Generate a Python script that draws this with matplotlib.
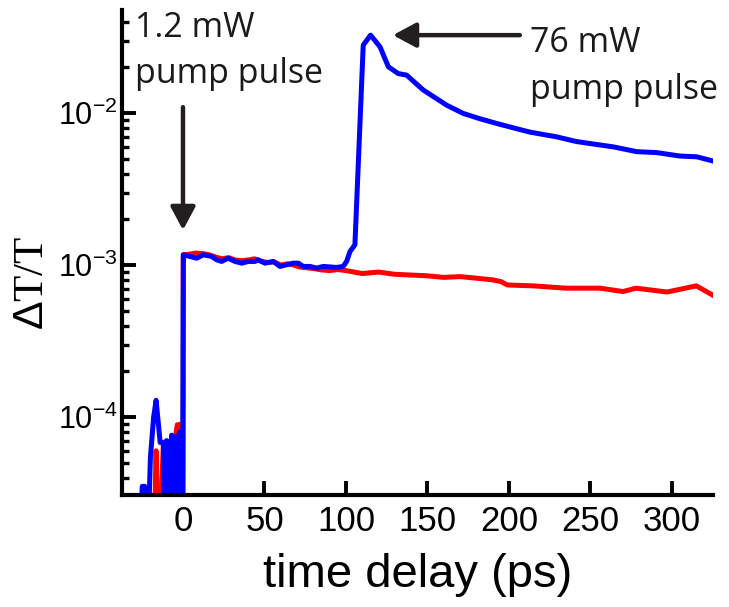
import numpy as np
import matplotlib
matplotlib.use("Agg")
import matplotlib.pyplot as plt
from matplotlib.ticker import LogLocator, FixedLocator, NullFormatter

plt.rcParams['mathtext.fontset'] = 'custom'
plt.rcParams['mathtext.rm'] = 'Liberation Sans'
plt.rcParams['mathtext.it'] = 'Liberation Sans:italic'
plt.rcParams['font.family'] = ['Liberation Sans', 'DejaVu Sans']

# 1.2 mW pump only (red)
t_red = [-36, -18, -16.5, -15, -12, -10.5, -9.5, -7, -5, -3.5, -2.5, -1, 0,
         0.2, 4, 8, 12, 16, 20, 24, 28, 32, 36, 40, 44, 48, 52, 56, 60, 64,
         68, 72, 76, 80, 85, 90, 95, 100, 105, 110, 120, 130, 140, 150, 160,
         170, 180, 190, 195, 199, 215, 235, 256, 270, 278, 297, 315, 325]
dtt_red = [1e-5, 1e-5, 6e-5, 1e-5, 6.8e-5, 6.9e-5, 1e-5, 6e-5, 7e-5, 8.9e-5,
           8.9e-5, 9e-5, 1e-5,
           1.17e-3, 1.18e-3, 1.2e-3, 1.19e-3, 1.17e-3, 1.13e-3, 1.1e-3,
           1.12e-3, 1.08e-3, 1.07e-3, 1.08e-3, 1.1e-3, 1.06e-3, 1.04e-3,
           1.05e-3, 1.0e-3, 1.02e-3, 1.0e-3, 0.97e-3, 0.96e-3, 0.95e-3,
           0.93e-3, 0.92e-3, 0.935e-3, 0.92e-3, 0.9e-3, 0.88e-3, 0.9e-3,
           0.87e-3, 0.86e-3, 0.85e-3, 0.83e-3, 0.84e-3, 0.82e-3, 0.8e-3,
           0.78e-3, 7.4e-4, 7.3e-4, 7.05e-4, 7.05e-4, 6.7e-4, 7.05e-4,
           6.65e-4, 7.3e-4, 6.35e-4]

# 1.2 mW pump followed by 76 mW pump at ~100 ps (blue)
t_blue = [-36, -27, -25, -23.5, -22, -20, -18, -16.5, -14, -12, -11, -10,
          -9, -8, -7, -6, -5, -4, -3, -2, -1, -0.3,
          0.2, 4.3, 8.4, 12.5, 17.6, 20.7, 23.7, 27.8, 31.9, 36, 40.1, 44.2,
          46.2, 50.3, 55.4, 59.5, 63.6, 67.7, 70.8, 73.8, 77.9, 82, 86.1,
          94.3, 98.3, 100.4, 102.5, 105.5, 110.6, 115.1, 120.9, 126, 132.1,
          137.2, 147.4, 161.8, 172, 182, 192.5, 204.7, 212.9, 229.3, 241.5,
          249.7, 264, 278.3, 290.6, 304.9, 315.2, 325.3]
dtt_blue = [1e-5, 1e-5, 3.5e-5, 3.5e-5, 1e-5, 5.4e-5, 1.0e-4, 1.29e-4,
            6.8e-5, 6.8e-5, 1e-5, 7e-5, 6.9e-5, 1e-5, 7.6e-5, 7.2e-5, 1e-5,
            7.5e-5, 1e-5, 8e-5, 1e-5, 1e-5,
            1.169e-3, 1.14e-3, 1.11e-3, 1.169e-3, 1.14e-3, 1.083e-3,
            1.057e-3, 1.11e-3, 1.057e-3, 1.03e-3, 1.057e-3, 1.057e-3,
            1.083e-3, 1.03e-3, 1.057e-3, 0.98e-3, 1.005e-3, 1.03e-3,
            1.03e-3, 0.98e-3, 0.98e-3, 0.956e-3, 0.98e-3, 0.965e-3, 0.98e-3,
            1.057e-3, 1.23e-3, 1.36e-3, 0.0280, 0.0326, 0.0273, 0.0202,
            0.0182, 0.0178, 0.0142, 0.01128, 0.00995, 0.0092, 0.00855,
            0.0079, 0.0075, 0.00698, 0.0065, 0.00631, 0.0060, 0.00558,
            0.0055, 0.00522, 0.00516, 0.00484]

xticks = [0, 50, 100, 150, 200, 250, 300]

fig = plt.figure(figsize=(7.29, 6.07), dpi=100)
ax = fig.add_axes([0.1674, 0.1845, 0.8106, 0.799])

ax.plot(t_red, dtt_red, color='#ff0000', lw=3.6, solid_joinstyle='round')
ax.plot(t_blue, dtt_blue, color='#0000ff', lw=3.6, solid_joinstyle='round')

ax.set_yscale('log')
ax.set_xlim(-37.4, 325.2)
ax.set_ylim(3.07e-5, 0.0477)

ax.spines['top'].set_visible(False)
ax.spines['right'].set_visible(False)
for s in ('left', 'bottom'):
    ax.spines[s].set_linewidth(3.0)

ax.xaxis.set_major_locator(FixedLocator(xticks))
ax.yaxis.set_major_locator(FixedLocator([1e-4, 1e-3, 1e-2]))
ax.yaxis.set_minor_locator(LogLocator(base=10, subs=np.arange(2, 10)))
ax.yaxis.set_minor_formatter(NullFormatter())
ax.set_yticklabels([r'$10^{-4}$', r'$10^{-3}$', r'$10^{-2}$'])

ax.tick_params(axis='x', which='major', direction='in', length=10,
               width=2.8, color='black', labelsize=25, pad=7)
ax.tick_params(axis='y', which='major', direction='in', length=10,
               width=2.8, color='black', labelsize=22, pad=3)
ax.tick_params(axis='y', which='minor', direction='in', length=5,
               width=2.4, color='black')

ax.set_xlabel('time delay (ps)', fontsize=34, va='center')
ax.xaxis.set_label_coords(0.5, -0.165)
fig.text(33 / 729, 1 - 283 / 607, r'$\Delta$T/T', rotation=90,
         ha='center', va='center', fontsize=31,
         family=['Liberation Serif', 'DejaVu Serif'])

# annotations
ann_font = dict(fontsize=24.5, family=['Open Sans', 'DejaVu Sans'],
                color='#1a1a1a', ha='left', va='baseline')
ax.text(-29.4, 0.0316, '1.2 mW', **ann_font)
ax.text(-29.4, 0.01574, 'pump pulse', **ann_font)
ax.text(212.9, 0.0252, '76 mW', clip_on=False, **ann_font)
ax.text(212.9, 0.01236, 'pump pulse', clip_on=False, **ann_font)

arrow = dict(arrowstyle='-|>,head_length=1.4,head_width=0.75',
             color='#231f20', lw=3.2, shrinkA=0, shrinkB=0)
ax.annotate('', xy=(0, 1.70e-3), xytext=(0, 0.01095), arrowprops=arrow)
ax.annotate('', xy=(128.8, 0.0326), xytext=(206.7, 0.0326),
            arrowprops=arrow)

fig.savefig('out.png', dpi=100)
